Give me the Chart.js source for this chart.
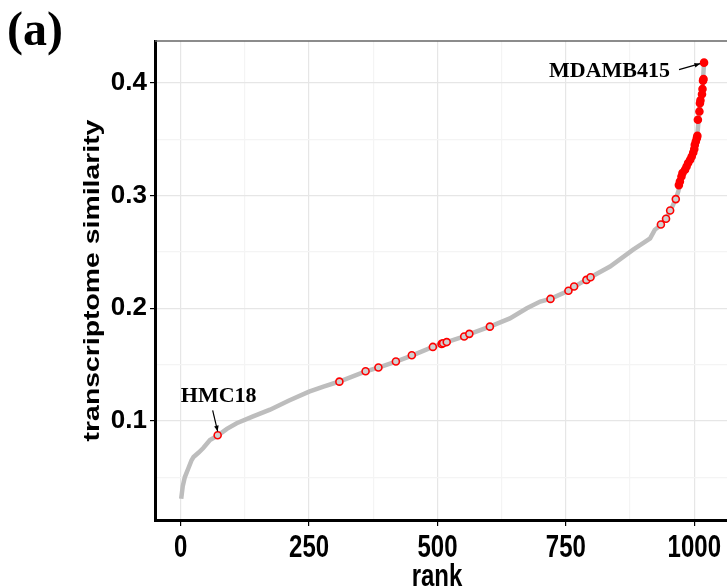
<!DOCTYPE html>
<html>
<head>
<meta charset="utf-8">
<script src="https://cdn.jsdelivr.net/npm/chart.js@4/dist/chart.umd.min.js"></script>
<style>
  html, body { margin: 0; padding: 0; background: #fff; overflow: hidden; }
  #wrap { position: relative; width: 727px; height: 587px; }
</style>
</head>
<body>
<div id="wrap"><canvas id="rankChart" width="727" height="587"></canvas></div>
<script>
// ranked curve, gray
const curveRanks  = [1, 4, 8, 15, 21, 25, 35, 44, 57, 72, 90, 109, 141, 174, 210, 250, 278, 309, 360, 385, 419, 450, 491, 518, 552, 562, 602, 641, 674, 700, 720, 755, 766, 798, 836, 881, 901, 914, 923, 935, 945, 954, 964, 969, 975, 985, 995, 1001, 1006, 1010, 1016, 1019];
const curveValues = [0.031, 0.042, 0.050, 0.058, 0.065, 0.068, 0.072, 0.076, 0.083, 0.087, 0.093, 0.098, 0.104, 0.110, 0.118, 0.126, 0.1305, 0.135, 0.144, 0.1474, 0.1527, 0.158, 0.1657, 0.170, 0.175, 0.177, 0.1837, 0.191, 0.200, 0.206, 0.2083, 0.2155, 0.219, 0.2276, 0.237, 0.252, 0.258, 0.262, 0.2696, 0.274, 0.280, 0.287, 0.297, 0.304, 0.317, 0.326, 0.333, 0.342, 0.354, 0.375, 0.395, 0.418];

// highlighted cell lines, red
const redRanks  = [72, 309, 360, 385, 419, 450, 491, 508, 511, 518, 552, 562, 602, 720, 755, 766, 790, 798, 935, 945, 953, 964, 970, 972, 975, 977, 982, 985, 988, 992, 995, 998, 1000, 1001, 1003, 1005, 1006, 1007, 1010, 1011, 1012, 1015, 1016, 1017, 1018, 1019];
const redValues = [0.0873, 0.1349, 0.1441, 0.1474, 0.1527, 0.1583, 0.1657, 0.1684, 0.169, 0.170, 0.1749, 0.1773, 0.1837, 0.2083, 0.2155, 0.2193, 0.2252, 0.2276, 0.2743, 0.2794, 0.2868, 0.2969, 0.3093, 0.3125, 0.317, 0.320, 0.3229, 0.3258, 0.3289, 0.3318, 0.3347, 0.3383, 0.3413, 0.345, 0.348, 0.351, 0.353, 0.3673, 0.3747, 0.382, 0.3845, 0.390, 0.3946, 0.402, 0.4035, 0.418];

const xMajorTicks = [0, 250, 500, 750, 1000];
const xMinorTicks = [125, 375, 625, 875];
const yMajorTicks = [0.1, 0.2, 0.3, 0.4];
const yMinorTicks = [0.05, 0.15, 0.25, 0.35];

const labelledPoints = [
  { name: "HMC18", rank: 72, value: 0.0873 },
  { name: "MDAMB415", rank: 1019, value: 0.418 }
];

const isMajor = (list, v) => list.some(m => Math.abs(m - v) < 1e-9);

const SANS = "'Liberation Sans', Arial, Helvetica, sans-serif";
const SERIF = "'Liberation Serif', 'Times New Roman', serif";

// -------------------------------
// extra drawing: border, labels, annotations
// -------------------------------
const decorPlugin = {
  id: "decor",
  afterDraw(chart) {
    const ctx = chart.ctx;
    const area = chart.chartArea;
    const xs = chart.scales.x;
    const ys = chart.scales.y;
    ctx.save();

    // top panel border
    ctx.strokeStyle = "#666";
    ctx.lineWidth = 1.5;
    ctx.beginPath();
    ctx.moveTo(area.left, area.top);
    ctx.lineTo(chart.width, area.top);
    ctx.stroke();

    ctx.fillStyle = "#000";

    // x tick labels (tall, narrow look of the original)
    ctx.font = "bold 24px " + SANS;
    ctx.textAlign = "center";
    ctx.textBaseline = "alphabetic";
    xMajorTicks.forEach(v => {
      ctx.save();
      ctx.translate(xs.getPixelForValue(v), 557);
      ctx.scale(1, 1.28);
      ctx.fillText(String(v), 0, 0);
      ctx.restore();
    });

    // x title
    ctx.save();
    ctx.translate(437, 586);
    ctx.scale(1, 1.28);
    ctx.fillText("rank", 0, 0);
    ctx.restore();

    // y title
    ctx.save();
    ctx.font = "bold 22px " + SANS;
    ctx.textBaseline = "middle";
    ctx.translate(93, (area.top + area.bottom) / 2);
    ctx.rotate(-Math.PI / 2);
    ctx.scale(1.29, 1);
    ctx.fillText("transcriptome similarity", 0, 0);
    ctx.restore();

    // panel label
    ctx.font = "bold 48px " + SERIF;
    ctx.textAlign = "left";
    ctx.textBaseline = "alphabetic";
    ctx.fillText("(a)", 7, 45);

    // annotations
    ctx.font = "bold 22px " + SERIF;
    ctx.lineWidth = 1.2;
    ctx.strokeStyle = "#000";

    const hmc = labelledPoints[0];
    const hx = xs.getPixelForValue(hmc.rank);
    const hy = ys.getPixelForValue(hmc.value);
    ctx.textAlign = "center";
    ctx.fillText(hmc.name, hx + 1, hy - 33);
    drawArrow(ctx, hx - 5, hy - 25, hx, hy - 4);

    const md = labelledPoints[1];
    const mx = xs.getPixelForValue(md.rank);
    const my = ys.getPixelForValue(md.value);
    ctx.textAlign = "right";
    ctx.fillText(md.name, mx - 34, my + 14);
    drawArrow(ctx, mx - 25, my + 7, mx - 4, my + 1);

    ctx.restore();
  }
};

function drawArrow(ctx, x1, y1, x2, y2) {
  ctx.beginPath();
  ctx.moveTo(x1, y1);
  ctx.lineTo(x2, y2);
  ctx.stroke();
  const a = Math.atan2(y2 - y1, x2 - x1);
  const len = 6;
  ctx.beginPath();
  ctx.moveTo(x2, y2);
  ctx.lineTo(x2 - len * Math.cos(a - 0.4), y2 - len * Math.sin(a - 0.4));
  ctx.lineTo(x2 - len * Math.cos(a + 0.4), y2 - len * Math.sin(a + 0.4));
  ctx.closePath();
  ctx.fillStyle = "#000";
  ctx.fill();
}

const curveData = curveRanks.map((r, i) => ({ x: r, y: curveValues[i] }));
const redData = redRanks.map((r, i) => ({ x: r, y: redValues[i] }));

const config = {
  type: "scatter",
  data: {
    datasets: [
      {
        label: "highlighted",
        data: redData,
        order: 0,
        pointRadius: 3.5,
        pointBorderWidth: 1.6,
        pointBorderColor: "#ff0000",
        pointBackgroundColor: c => (c.raw && c.raw.y < 0.305 ? "#d0d0d0" : "#ff0000")
      },
      {
        label: "all",
        data: curveData,
        order: 1,
        showLine: true,
        borderColor: "#bdbdbd",
        borderWidth: 4.5,
        pointRadius: 0,
        tension: 0
      }
    ]
  },
  options: {
    responsive: false,
    animation: false,
    layout: { autoPadding: false, padding: { top: 41, right: 0, left: 0, bottom: 0 } },
    plugins: {
      legend: { display: false },
      tooltip: { enabled: false }
    },
    scales: {
      x: {
        type: "linear",
        min: -50,
        max: 1063.7,
        afterBuildTicks: s => {
          s.ticks = xMajorTicks.concat(xMinorTicks).sort((a, b) => a - b).map(v => ({ value: v }));
        },
        afterFit: s => { s.height = 67; },
        grid: {
          color: c => (isMajor(xMajorTicks, c.tick.value) ? "#e6e6e6" : "#f4f4f4"),
          lineWidth: 1.2,
          tickLength: 6,
          tickColor: c => (isMajor(xMajorTicks, c.tick.value) ? "#000" : "rgba(0,0,0,0)"),
          tickWidth: 1.2
        },
        border: { display: true, color: "#000", width: 3 },
        ticks: { display: false }
      },
      y: {
        type: "linear",
        min: 0.0121,
        max: 0.4372,
        afterBuildTicks: s => {
          s.ticks = yMajorTicks.concat(yMinorTicks).sort((a, b) => a - b).map(v => ({ value: v }));
        },
        afterFit: s => { s.width = 155; },
        grid: {
          color: c => (isMajor(yMajorTicks, c.tick.value) ? "#e6e6e6" : "#f4f4f4"),
          lineWidth: 1.2,
          tickLength: 5,
          tickColor: c => (isMajor(yMajorTicks, c.tick.value) ? "#000" : "rgba(0,0,0,0)"),
          tickWidth: 1.2
        },
        border: { display: true, color: "#000", width: 3 },
        ticks: {
          autoSkip: false,
          padding: 3,
          color: "#000",
          font: { family: SANS, weight: "bold", size: 26 },
          callback: v => (isMajor(yMajorTicks, v) ? v.toFixed(1) : "")
        }
      }
    }
  },
  plugins: [decorPlugin]
};

new Chart(document.getElementById("rankChart"), config);
</script>
</body>
</html>
